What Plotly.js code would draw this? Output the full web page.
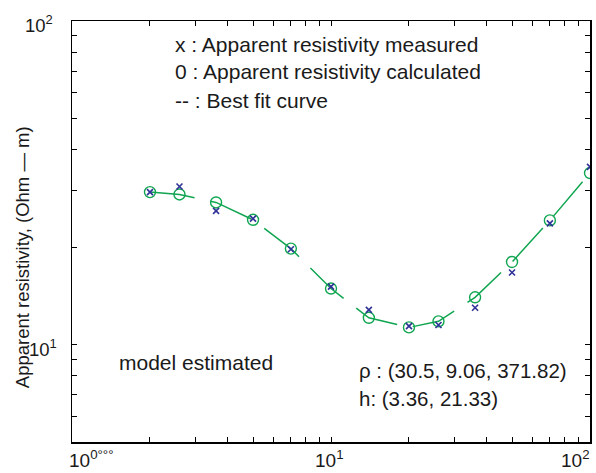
<!DOCTYPE html>
<html>
<head>
<meta charset="utf-8">
<script src="https://cdn.plot.ly/plotly-3.0.1.min.js"></script>
<style>html,body{margin:0;padding:0;background:#fff;}#chart{width:596px;height:473px;}</style>
</head>
<body>
<div id="chart"></div>
<script>
// Electrode spacing (x) and apparent resistivity values (Ohm-m)
const spacing = [2, 2.6, 3.6, 5, 7, 10, 14, 20, 26, 36, 50, 70, 100];
const rhoMeasured = [29.6, 30.8, 25.9, 24.5, 19.7, 15.1, 12.8, 11.4, 11.5, 13.0, 16.7, 23.7, 35.4];
const rhoCalculated = [29.6, 29.1, 27.5, 24.3, 19.8, 14.9, 12.1, 11.3, 11.8, 14.0, 18.0, 24.2, 33.9];

const xTickVals = [1,2,3,4,5,6,7,8,9,10,20,30,40,50,60,70,80,90,100];
const yTickVals = [5,6,7,8,9,10,20,30,40,50,60,70,80,90,100];
const xLabelVals = [1, 10, 100];
const xLabelText = ['10<sup>0°°°</sup>', '10<sup>1</sup>', '10<sup>2</sup>'];
const xLabelAnchor = ['left', 'center', 'right'];
const xLabelShift = [-5, -2, 2];
const yLabelVals = [10, 100];
const yLabelText = ['10<sup>1</sup>', '10<sup>2</sup>'];
const yLabelShift = [-13, -17];

const yTitle = 'Apparent resistivity, (Ohm — m)';
const legendLines = ['x : Apparent resistivity measured', '0 : Apparent resistivity calculated', '-- : Best fit curve'];
const modelLines = ['ρ : (30.5, 9.06, 371.82)', 'h: (3.36, 21.33)'];

const green = 'rgb(16,165,80)';
const blue = 'rgb(46,49,150)';
const font = 'Liberation Sans, Arial, Helvetica, sans-serif';

const traces = [
  {x: spacing, y: rhoCalculated, mode: 'lines', type: 'scatter',
   line: {color: green, width: 1.5, dash: '45px,16px'}, hoverinfo: 'skip'},
  {x: spacing, y: rhoCalculated, mode: 'markers', type: 'scatter',
   marker: {symbol: 'circle-open', size: 11, color: green, line: {width: 1.4, color: green}}},
  {x: spacing, y: rhoMeasured, mode: 'markers', type: 'scatter',
   marker: {symbol: 'x-thin-open', size: 6, color: blue, line: {width: 1.6, color: blue}}}
];

const annotations = [];
legendLines.forEach((t, i) => {
  annotations.push({text: t, xref: 'paper', yref: 'paper', x: 0.195, y: [0.943, 0.879, 0.812][i],
    xanchor: 'left', yanchor: 'middle', showarrow: false, font: {size: 21, color: '#1a1a1a', family: font}});
});
annotations.push({text: 'model estimated', xref: 'paper', yref: 'paper', x: (117-72)/518, y: 1-(362-21)/420.7,
  xanchor: 'left', yanchor: 'middle', showarrow: false, font: {size: 21, color: '#1a1a1a', family: font}});
modelLines.forEach((t, i) => {
  annotations.push({text: t, xref: 'paper', yref: 'paper', x: (357-72)/518, y: 1-([370, 398][i]-21)/420.7,
    xanchor: 'left', yanchor: 'middle', showarrow: false, font: {size: 20.5, color: '#1a1a1a', family: font}});
});
xLabelVals.forEach((v, i) => {
  annotations.push({text: xLabelText[i], xref: 'x', yref: 'paper', x: Math.log10(v), y: 1-(459-21)/420.7,
    xanchor: xLabelAnchor[i], xshift: xLabelShift[i], yanchor: 'middle', showarrow: false,
    font: {size: 19, color: '#1a1a1a', family: font}});
});
yLabelVals.forEach((v, i) => {
  annotations.push({text: yLabelText[i], xref: 'paper', yref: 'y', x: 0, y: Math.log10(v),
    xanchor: 'right', xshift: yLabelShift[i], yanchor: 'middle', yshift: -3, showarrow: false,
    font: {size: 18.5, color: '#1a1a1a', family: font}});
});
// y-axis title
annotations.push({text: yTitle, xref: 'paper', yref: 'paper', x: (22-72)/518, y: 1-(257-21)/420.7,
  xanchor: 'center', yanchor: 'middle', textangle: -90, showarrow: false,
  font: {size: 18.5, color: '#1a1a1a', family: font}});

const layout = {
  width: 596, height: 473,
  margin: {l: 72, r: 6, t: 21, b: 31, pad: 0},
  paper_bgcolor: '#fff', plot_bgcolor: '#fff',
  showlegend: false,
  font: {family: font, color: '#1a1a1a'},
  xaxis: {type: 'log', range: [0, 2], showgrid: false, zeroline: false,
    showline: true, linecolor: '#000', linewidth: 1.5, mirror: 'ticks',
    ticks: 'inside', ticklen: 5, tickwidth: 1, tickcolor: '#000',
    tickvals: xTickVals, showticklabels: false},
  yaxis: {type: 'log', range: [Math.log10(5), 2], showgrid: false, zeroline: false,
    showline: true, linecolor: '#000', linewidth: 1.5, mirror: 'ticks',
    ticks: 'inside', ticklen: 5, tickwidth: 1, tickcolor: '#000',
    tickvals: yTickVals, showticklabels: false},
  annotations: annotations
};

Plotly.newPlot('chart', traces, layout, {displayModeBar: false, staticPlot: true});
</script>
</body>
</html>
